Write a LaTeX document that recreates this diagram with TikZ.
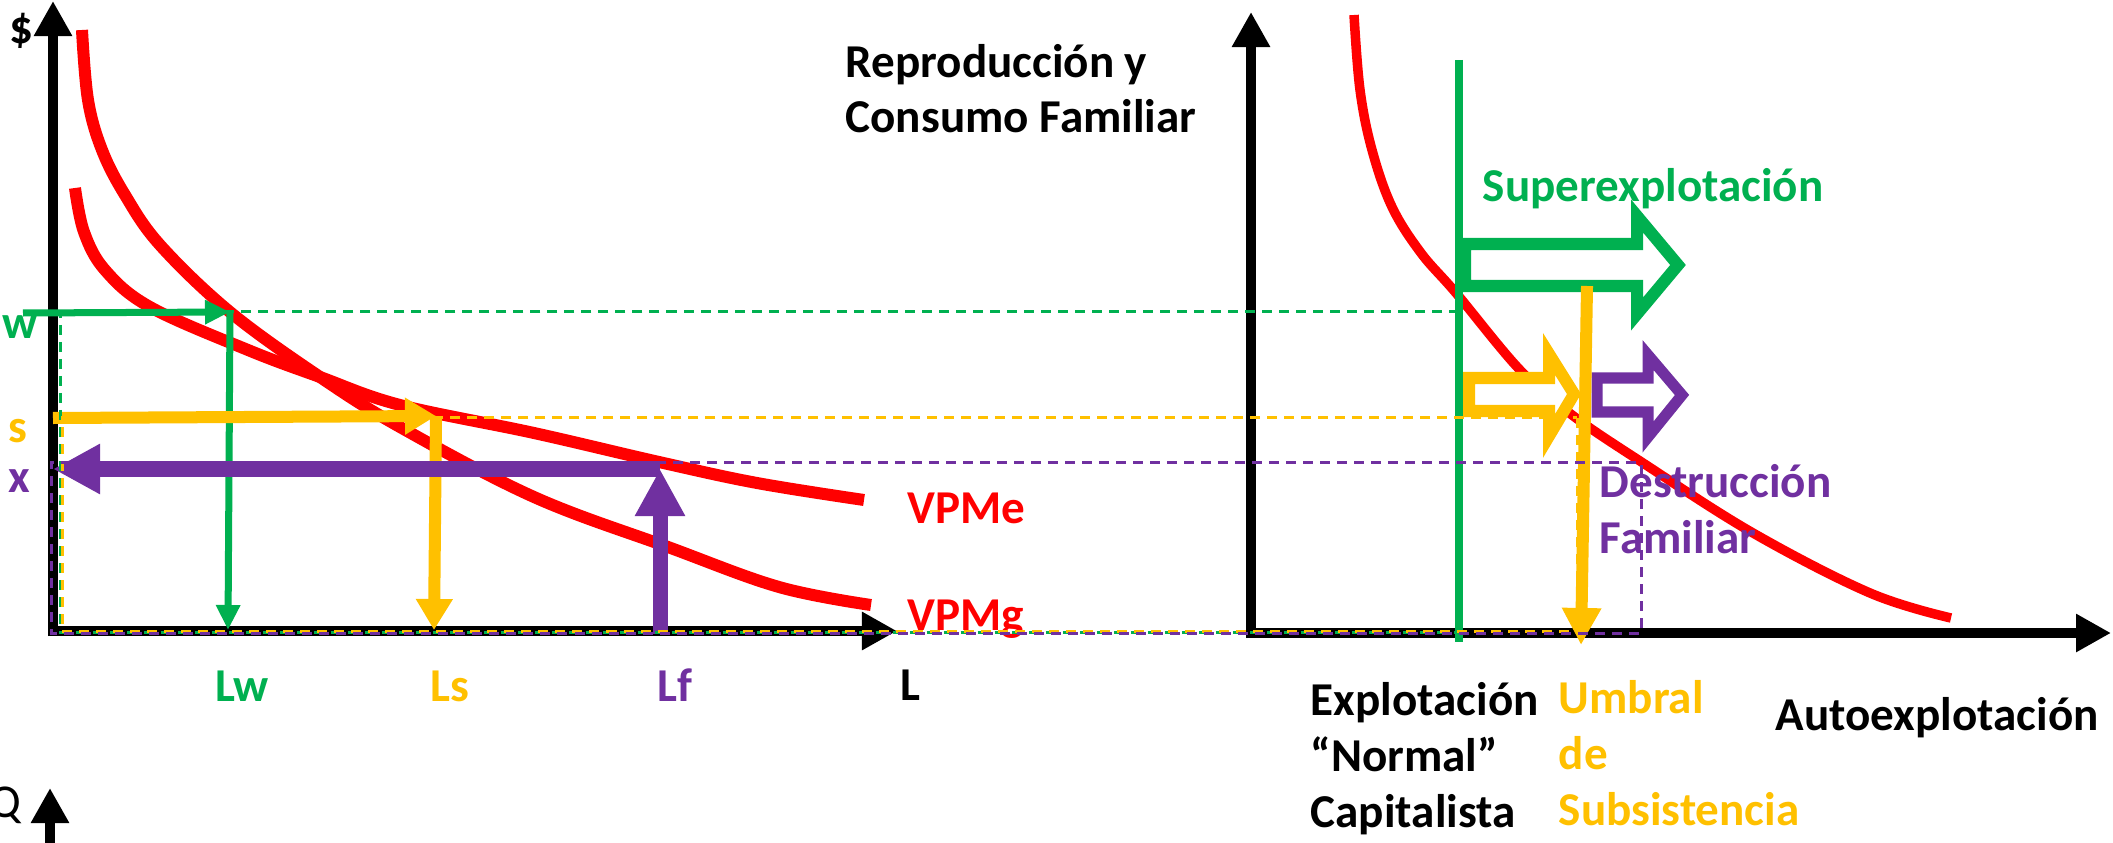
\documentclass[tikz,border=0pt]{standalone}
\usepackage{fontspec}
\setmainfont{Carlito}
\usetikzlibrary{arrows.meta}
\definecolor{verde}{HTML}{00B050}
\definecolor{amarillo}{HTML}{FFC000}
\definecolor{morado}{HTML}{7030A0}
\tikzset{
    labn/.style = {anchor=base, inner sep=0pt, align=left, font=\fontsize{13.4}{15.9}\selectfont\bfseries, text=black},
    labg/.style = {labn, text=verde},
    laby/.style = {labn, text=amarillo},
    labp/.style = {labn, text=morado},
    labr/.style = {labn, text=red},
    axisn/.style = {line width=0.1cm, black, -{Triangle[width=0.36cm,length=0.35cm]}},
    curver/.style = {line width=0.12cm, red},
    curverr/.style = {line width=0.095cm, red},
    arrowg/.style = {line width=0.07cm, verde, -{Triangle[width=0.23cm,length=0.25cm]}},
    arrowy/.style = {line width=0.12cm, amarillo, -{Triangle[width=0.35cm,length=0.31cm]}},
    arrowp/.style = {line width=0.15cm, morado, -{Triangle[width=0.47cm,length=0.47cm]}},
    blockg/.style = {line width=0.12cm, draw=verde, fill=white},
    blocky/.style = {line width=0.12cm, draw=amarillo, fill=white},
    blockp/.style = {line width=0.11cm, draw=morado, fill=white},
    dashg/.style = {line width=0.03cm, verde, dash pattern=on 0.1cm off 0.07cm},
    dashy/.style = {line width=0.03cm, amarillo, dash pattern=on 0.1cm off 0.07cm, dash phase=0.06cm},
    dashp/.style = {line width=0.03cm, morado, dash pattern=on 0.1cm off 0.07cm, dash phase=0.12cm}
}
\begin{document}
\begin{tikzpicture}[x=0.01cm, y=-0.01cm]
\path[use as bounding box] (0,0) rectangle (2113,843);
% ejes
\coordinate (ya1) at (53,636);
\coordinate (yt1) at (53,1);
\coordinate (xa1) at (48,631);
\coordinate (xt1) at (897,631);
\coordinate (ya2) at (1251,638);
\coordinate (yt2) at (1251,12);
\coordinate (xa2) at (1246,633);
\coordinate (xt2) at (2111,633);
\coordinate (qa) at (50,860);
\coordinate (qt) at (50,788);
\draw[axisn] (ya1) -- (yt1);
\draw[axisn] (xa1) -- (xt1);
\draw[axisn] (ya2) -- (yt2);
\draw[axisn] (xa2) -- (xt2);
\draw[axisn] (qa) -- (qt);
% curvas
\draw[curver] plot[smooth, tension=0.6] coordinates {(82,30) (88,100) (102,150) (125,195) (160,245) (230,312) (320,377) (400,427) (534,497) (668,547) (779,587) (871,605)};
\draw[curver] plot[smooth, tension=0.6] coordinates {(75,188) (84,232) (105,270) (150,307) (248,350) (320,377) (400,405) (534,433) (659,462) (757,483) (864,500)};
\draw[curverr] plot[smooth, tension=0.6] coordinates {(1354,15) (1360,90) (1372,150) (1392,207) (1421,253) (1456,293) (1520,370) (1572,415) (1643,463) (1753,533) (1870,593) (1951,618)};
% puntos
\coordinate (pw) at (230,312);
\coordinate (ps) at (436,416);
\coordinate (px) at (660,469);
\coordinate (w0) at (23,313);
\coordinate (lw0) at (228,630);
\coordinate (s0) at (53,418);
\coordinate (ls0) at (434,630);
\coordinate (x0) at (53,469);
\coordinate (lf0) at (660,634);
\draw[arrowg] (w0) -- (pw);
\draw[arrowg] (pw) -- (lw0);
\draw[arrowy] (s0) -- (ps);
\draw[arrowy] (ps) -- (ls0);
\draw[arrowp] (px) -- (x0);
\draw[arrowp] (lf0) -- (px);
% flechas de bloque
\draw[blockg] (1465,244) -- (1637,244) -- (1637,216) -- (1678,265) -- (1637,314) -- (1637,286) -- (1465,286) -- cycle;
\draw[blocky] (1469,378) -- (1549,378) -- (1549,354) -- (1574,394) -- (1549,436) -- (1549,411) -- (1469,411) -- cycle;
\draw[blockp] (1597,378) -- (1648,378) -- (1648,355) -- (1682,395) -- (1648,437) -- (1648,412) -- (1597,412) -- cycle;
\coordinate (g0) at (1459,60);
\coordinate (g1) at (1459,642);
\draw[line width=0.08cm, verde] (g0) -- (g1);
\coordinate (u0) at (1587,286);
\coordinate (u1) at (1581,645);
\draw[arrowy, -{Triangle[width=0.37cm,length=0.37cm]}] (u0) -- (u1);
% textos
\node[labn] at (21,44) (dolar) {\$};
\node[labn, font=\fontsize{13.4}{15.9}\selectfont, anchor=base east] at (22,817) (q) {Q};
\node[labg] at (20,338) (w) {w};
\node[laby] at (18,442) (s) {s};
\node[labp] at (19,492) (x) {x};
\node[labg] at (242,701) (lw) {Lw};
\node[laby] at (450,701) (ls) {Ls};
\node[labp] at (675,701) (lf) {Lf};
\node[labn] at (910,700) (l) {L};
\node[labr, anchor=base west] at (907,523) (vpme) {VPMe};
\node[labr, anchor=base west] at (907,630) (vpmg) {VPMg};
\node[labn, anchor=base west] at (845,133) (repro) {Reproducción y\\Consumo Familiar};
\node[labg, anchor=base west] at (1482,202) (super) {Superexplotación};
\node[labp, anchor=base west] at (1599,553) (destru) {Destrucción\\Familiar};
\node[labn, anchor=base west] at (1310,827) (explo) {Explotación\\“Normal”\\Capitalista};
\node[laby, anchor=base west] at (1558,825) (umbral) {Umbral\\de\\Subsistencia};
\node[labn, anchor=base west] at (1775,730) (auto) {Autoexplotación};
% lineas punteadas
\draw[dashg] (1459,312) -- (60,312) -- (60,632) -- (1459,632);
\draw[dashy] (1577,417) -- (62,417) -- (62,631) -- (1577,631) -- cycle;
\draw[dashp] (1641,462) -- (51,462) -- (51,633) -- (1641,633) -- cycle;
\end{tikzpicture}
\end{document}
